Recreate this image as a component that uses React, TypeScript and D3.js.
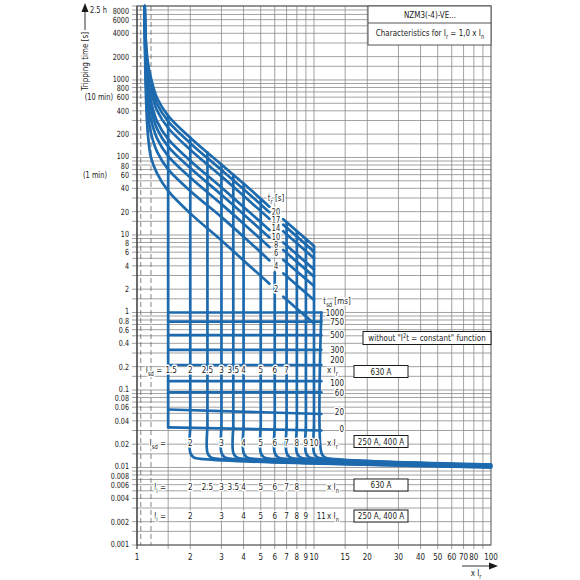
import React from "react";
import * as d3 from "d3";

// ---- long-time (overload) curves, tr = time at 6 x Ir ----
const trValues = [20, 17, 14, 10, 8, 6, 4, 2];
// left part, up to the tr label column
const ltX = [1.105, 1.12, 1.15, 1.2, 1.3, 1.5, 2, 3, 4, 5.6];
const lt20 = [9000, 3500, 1750, 1050, 580, 345, 180, 81, 46, 23.2];
const lt17 = [9000, 3000, 1450, 880, 490, 292, 153, 69, 39, 19.7];
const lt14 = [9000, 2600, 1180, 720, 400, 240, 126, 57, 32, 16.2];
const lt10 = [9000, 2100, 900, 530, 290, 172, 91, 41, 23, 11.6];
const lt8 = [9000, 1800, 740, 420, 232, 138, 73, 33, 18.5, 9.3];
const lt6 = [9000, 1500, 570, 310, 175, 104, 55, 25, 14, 7.0];
const lt4 = [9000, 1200, 390, 205, 118, 70, 37, 17, 9.5, 4.7];
const lt2 = [9000, 800, 210, 100, 62, 37, 19, 8.5, 4.7, 2.35];
const ltPart1 = [lt20, lt17, lt14, lt10, lt8, lt6, lt4, lt2];
// right part, after the label column
const lt2X = [6.7, 10];
const ltPart2 = [
  [16, 7.2],
  [13.6, 6.1],
  [11.2, 5.0],
  [8.0, 3.6],
  [6.4, 2.9],
  [4.8, 2.2],
  [3.2, 1.45],
  [1.6, 0.72],
];

// ---- short-time pick-up Isd (vertical drops) ----
const isdX = [1.5, 2, 2.5, 3, 3.5, 4, 5, 6, 7, 8, 9, 10];
const isdTop = [345, 180, 116, 81, 60, 46, 29, 3.3, 14.5, 11.2, 8.9, 7.2];

// ---- tsd delay levels (horizontal), start at Isd 1.5, end at 11 ----
const tsdLabels = ["1000", "750", "500", "300", "200", "100", "60", "20", "0"];
const tsdStart = [1.0, 0.76, 0.51, 0.33, 0.21, 0.13, 0.093, 0.056, 0.033];
const tsdEnd = [1.0, 0.76, 0.51, 0.33, 0.21, 0.13, 0.093, 0.049, 0.03];

// ---- instantaneous Ii ----
const iiX = [2, 2.5, 3, 3.5, 4, 5, 6, 7, 8, 9, 10, 11];
const iiTop = [0.033, 0.033, 0.033, 0.033, 0.033, 0.033, 0.033, 0.033, 0.033, 0.033, 0.033, 1.0];
const iiEnd = [0.01, 0.0101, 0.0102, 0.0102, 0.0103, 0.0104, 0.0105, 0.0106, 0.0107, 0.0107, 0.0108, 0.0109];

// ---- label rows ----
const row630Isd = [1.5, 2, 2.5, 3, 3.5, 4, 5, 6, 7];
const row250Isd = [2, 3, 4, 5, 6, 7, 8, 9, 10];
const row630Ii = [2, 2.5, 3, 3.5, 4, 5, 6, 7, 8];
const row250Ii = [2, 3, 4, 5, 6, 7, 8, 9, 11];

// ---- axes ----
const xTickLabels = [1, 2, 3, 4, 5, 6, 7, 8, 9, 10, 15, 20, 30, 40, 50, 60, 70, 80, 100];
const xGrid = [1.5, 2, 3, 4, 5, 6, 7, 8, 9, 10, 15, 20, 30, 40, 50, 60, 70, 80, 90];
const yTickLabels = [
  8000, 6000, 4000, 2000, 1000, 800, 600, 400, 200, 100, 80, 60, 40, 20, 10, 8, 6, 4, 2, 1,
  0.8, 0.6, 0.4, 0.2, 0.1, 0.08, 0.06, 0.04, 0.02, 0.01, 0.008, 0.006, 0.004, 0.002, 0.001,
];
const yGridSteps = [1, 1.5, 2, 3, 4, 5, 6, 7, 8, 9];

const FONT = "'DejaVu Sans Condensed', 'DejaVu Sans', sans-serif";
const BLUE = "#1d6aae";
const GRID = "#8a8a8a";
const INK = "#1a1a1a";
const SX = 0.84; // narrow the face horizontally
const FS = 9.5;

type Part = { t: string; s?: "sub" | "sup" };

const Rich: React.FC<{
  x: number;
  y: number;
  parts: Part[];
  anchor?: "start" | "middle" | "end";
  size?: number;
  halo?: boolean;
  rotate?: number;
}> = ({ x, y, parts, anchor = "start", size = FS, halo = false, rotate = 0 }) => {
  let shift = 0;
  const spans = parts.map((p, i) => {
    const target = p.s === "sub" ? size * 0.3 : p.s === "sup" ? -size * 0.4 : 0;
    const dy = target - shift;
    shift = target;
    return (
      <tspan key={i} dy={dy} fontSize={p.s ? size * 0.72 : size}>
        {p.t}
      </tspan>
    );
  });
  const tf = rotate
    ? `translate(${x},${y}) rotate(${rotate}) scale(${SX},1) translate(0,${size * 0.35})`
    : `translate(${x},${y + size * 0.35}) scale(${SX},1)`;
  return (
    <text
      transform={tf}
      textAnchor={anchor}
      fontSize={size}
      fill={INK}
      stroke={halo ? "#fff" : "none"}
      strokeWidth={halo ? 3 : 0}
      strokeLinejoin="round"
      style={{ paintOrder: "stroke" }}
    >
      {spans}
    </text>
  );
};

const App: React.FC = () => {
  const x = d3.scaleLog().domain([1, 100]).range([137, 491]);
  const y = d3.scaleLog().domain([0.001, 9000]).range([545, 6]);

  const smooth = d3
    .line<[number, number]>()
    .x(d => x(d[0]))
    .y(d => y(d[1]))
    .curve(d3.curveCatmullRom.alpha(0.5));
  const straight = d3
    .line<[number, number]>()
    .x(d => x(d[0]))
    .y(d => y(d[1]));

  const yGrid: number[] = [];
  for (let e = -3; e <= 3; e++) {
    yGridSteps.forEach(m => {
      const v = m * Math.pow(10, e);
      if (v >= 0.001 && v <= 9000) yGrid.push(v);
    });
  }

  // the decade label and the 0.8 label sit very close: spread them a touch
  const yLabelPos = (v: number) => {
    const lead = v / Math.pow(10, Math.floor(Math.log10(v) + 1e-9));
    if (Math.abs(lead - 1) < 1e-6) return y(v) - 1;
    if (Math.abs(lead - 8) < 1e-6) return y(v) + 0.8;
    return y(v);
  };

  // keep the tr labels from touching each other
  const trLabelY: number[] = [];
  trValues.forEach((tr, i) => {
    const want = y(tr);
    trLabelY.push(i === 0 ? want : Math.max(want, trLabelY[i - 1] + 8.3));
  });

  const tsdLabelY = tsdLabels.map((lbl, i) => {
    const base = y(Math.sqrt(tsdStart[i] * tsdEnd[i]));
    if (lbl === "200") return base - 5;
    if (lbl === "100") return base + 2;
    return base;
  });

  const blue = {
    fill: "none",
    stroke: BLUE,
    strokeWidth: 2.7,
    strokeLinejoin: "round" as const,
    strokeLinecap: "round" as const,
  };

  const rowNumbers = (vals: number[], yy: number) =>
    vals.map(v => (
      <Rich key={v} x={x(v) + (v === 1.5 ? 3 : 0)} y={yy} parts={[{ t: String(v) }]} anchor="middle" halo />
    ));

  const xIr: Part[] = [{ t: "x I" }, { t: "r", s: "sub" }];
  const xIn: Part[] = [{ t: "x I" }, { t: "n", s: "sub" }];

  return (
    <svg
      width={580}
      height={580}
      style={{ position: "absolute", left: 0, top: 0, background: "#fff" }}
      fontFamily={FONT}
    >
      <rect width={580} height={580} fill="#fff" />

      {/* grid */}
      {yGrid.map(v => (
        <line key={"gy" + v} x1={132} x2={x(100)} y1={y(v)} y2={y(v)} stroke={GRID} strokeWidth={0.8} />
      ))}
      {xGrid.map(v => (
        <line key={"gx" + v} x1={x(v)} x2={x(v)} y1={y(9000)} y2={549} stroke={GRID} strokeWidth={0.8} />
      ))}
      {[1.05, 1.2].map(v => (
        <line key={"d" + v} x1={x(v)} x2={x(v)} y1={y(9000)} y2={y(0.001)} stroke="#666" strokeWidth={0.8} strokeDasharray="5,3" />
      ))}
      <rect x={x(1)} y={y(9000)} width={x(100) - x(1)} height={y(0.001) - y(9000)} fill="none" stroke="#555" strokeWidth={1} />
      <line x1={x(1)} x2={x(1)} y1={y(9000)} y2={549} stroke="#444" strokeWidth={1.2} />

      {/* tsd horizontals */}
      {tsdStart.map((t0, i) => (
        <path key={"tsd" + i} d={straight([[1.5, t0], [11, tsdEnd[i]]]) || ""} {...blue} />
      ))}

      {/* Isd verticals */}
      {isdX.map((v, i) => (
        <path key={"isd" + v} d={straight([[v, isdTop[i]], [v, 0.033]]) || ""} {...blue} />
      ))}

      {/* Ii drops into the instantaneous band */}
      {iiX.map((v, i) => (
        <path
          key={"ii" + v}
          d={
            smooth([
              [v, iiTop[i]],
              [v, 0.0155],
              [v * 1.04, 0.0136],
              [v * 1.2, 0.0128],
              [100, iiEnd[i]],
            ]) || ""
          }
          {...blue}
        />
      ))}

      {/* long-time curves */}
      {ltPart1.map((ts, i) => (
        <path key={"lt1" + i} d={smooth(ltX.map((v, j) => [v, ts[j]] as [number, number])) || ""} {...blue} />
      ))}
      {ltPart2.map((ts, i) => (
        <path key={"lt2" + i} d={straight(lt2X.map((v, j) => [v, ts[j]] as [number, number])) || ""} {...blue} />
      ))}

      {/* y axis labels */}
      {yTickLabels.map(v => (
        <Rich key={"yl" + v} x={129} y={yLabelPos(v)} parts={[{ t: String(v) }]} anchor="end" size={8.5} />
      ))}
      <Rich x={113} y={y(600)} parts={[{ t: "(10 min)" }]} anchor="end" size={8.8} />
      <Rich x={107} y={y(60)} parts={[{ t: "(1 min)" }]} anchor="end" size={8.8} />
      <Rich x={90} y={y(9000) + 4} parts={[{ t: "2.5 h" }]} size={8.8} />
      <path d="M85,3 L81.5,12 L88.5,12 Z" fill={INK} />
      <line x1={85} x2={85} y1={12} y2={30} stroke={INK} strokeWidth={0.9} />
      <Rich x={85} y={32} parts={[{ t: "Tripping time [s]" }]} anchor="end" rotate={-90} />

      {/* x axis labels */}
      {xTickLabels.map(v => (
        <Rich key={"xl" + v} x={x(v)} y={557} parts={[{ t: String(v) }]} anchor="middle" />
      ))}
      <line x1={462} x2={490} y1={566} y2={566} stroke={INK} strokeWidth={0.9} />
      <path d="M498,566 L489,562.5 L489,569.5 Z" fill={INK} />
      <Rich x={476} y={573} parts={xIr} anchor="middle" />

      {/* tr labels */}
      <Rich x={276} y={198} parts={[{ t: "t" }, { t: "r", s: "sub" }, { t: " [s]" }]} anchor="middle" halo />
      {trValues.map((tr, i) => (
        <Rich key={"tr" + tr} x={276} y={trLabelY[i]} parts={[{ t: String(tr) }]} anchor="middle" size={8.8} halo />
      ))}

      {/* tsd labels */}
      <Rich x={337} y={301} parts={[{ t: "t" }, { t: "sd", s: "sub" }, { t: " [ms]" }]} anchor="middle" halo />
      {tsdLabels.map((lbl, i) => (
        <Rich key={"tl" + lbl} x={344} y={tsdLabelY[i]} parts={[{ t: lbl }]} anchor="end" halo />
      ))}

      {/* setting rows */}
      <Rich x={x(1.5) - 6} y={370} parts={[{ t: "I" }, { t: "sd", s: "sub" }, { t: " =" }]} anchor="end" halo />
      {rowNumbers(row630Isd, 370)}
      <Rich x={327} y={370} parts={xIr} halo />

      <Rich x={166} y={443} parts={[{ t: "I" }, { t: "sd", s: "sub" }, { t: " =" }]} anchor="end" halo />
      {rowNumbers(row250Isd, 443)}
      <Rich x={327} y={443} parts={xIr} halo />

      <Rich x={166} y={486.5} parts={[{ t: "I" }, { t: "i", s: "sub" }, { t: " =" }]} anchor="end" halo />
      {rowNumbers(row630Ii, 486.5)}
      <Rich x={327} y={486.5} parts={xIn} halo />

      <Rich x={166} y={516} parts={[{ t: "I" }, { t: "i", s: "sub" }, { t: " =" }]} anchor="end" halo />
      {rowNumbers(row250Ii, 516)}
      <Rich x={327} y={516} parts={xIn} halo />

      {/* boxes */}
      <rect x={368} y={y(9000)} width={x(100) - 368} height={39} fill="#fff" stroke="#555" strokeWidth={1} />
      <line x1={368} x2={x(100)} y1={23} y2={23} stroke="#555" strokeWidth={1} />
      <Rich x={430} y={14.5} parts={[{ t: "NZM3(-4)-VE..." }]} anchor="middle" />
      <Rich
        x={430}
        y={33}
        parts={[{ t: "Characteristics for I" }, { t: "r", s: "sub" }, { t: " = 1,0 x I" }, { t: "n", s: "sub" }]}
        anchor="middle"
      />

      <rect x={363} y={331.5} width={128} height={13} fill="#fff" stroke={INK} strokeWidth={1} />
      <Rich
        x={427}
        y={338}
        parts={[{ t: "without \"I" }, { t: "2", s: "sup" }, { t: "t = constant\" function" }]}
        anchor="middle"
      />

      {[
        { label: "630 A", top: 365.5 },
        { label: "250 A, 400 A", top: 435.5 },
        { label: "630 A", top: 479 },
        { label: "250 A, 400 A", top: 510 },
      ].map(b => (
        <g key={b.label + b.top}>
          <rect x={354} y={b.top} width={54} height={12} fill="#fff" stroke={INK} strokeWidth={1} />
          <Rich x={381} y={b.top + 6} parts={[{ t: b.label }]} anchor="middle" />
        </g>
      ))}
    </svg>
  );
};

export default App;
